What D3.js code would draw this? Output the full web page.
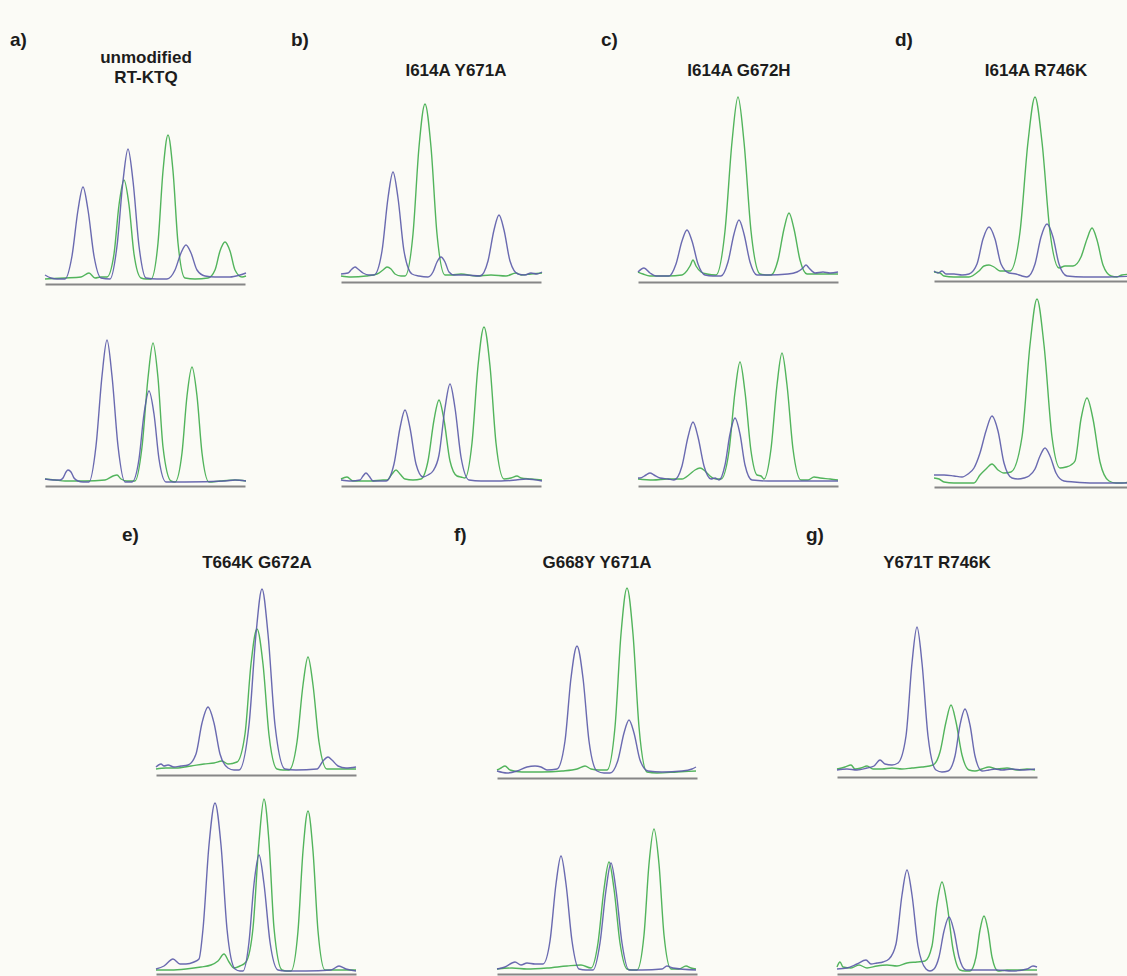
<!DOCTYPE html>
<html>
<head>
<meta charset="utf-8">
<script src="https://cdn.jsdelivr.net/npm/d3@7"></script>
<style>
  body { margin: 0; background: #fbfbf6; }
  svg { display: block; }
  .panel-label, .panel-title {
    font-family: "Liberation Sans", Arial, sans-serif;
    font-weight: bold;
    fill: #1c1c1c;
  }
</style>
</head>
<body>
<div id="chart"></div>
<script>
// Panel labels and titles
const panelLabels = ['a)', 'b)', 'c)', 'd)', 'e)', 'f)', 'g)']
const panelTitles = [
    ['unmodified', 'RT-KTQ'],
    ['I614A Y671A'],
    ['I614A G672H'],
    ['I614A R746K'],
    ['T664K G672A'],
    ['G668Y Y671A'],
    ['Y671T R746K']
]

// Trace key points: [scan position, signal]
const aTopBlue = [[0,4],[6,1],[12,0],[20,0],[27,23],[33,69],[38,92],[43,69],[49,23],[56,1],[65,0],[72,33],[78,98],[83,130],[88,98],[94,33],[101,1],[112,0],[122,0],[130,9],[136,26],[141,34],[146,26],[152,9],[160,3],[170,2],[185,2],[195,4],[201,6]]
const aTopGreen = [[0,0],[20,1],[36,2],[44,6],[50,1],[56,2],[62,2],[69,25],[74,74],[79,99],[84,74],[89,25],[96,1],[101,0],[106,0],[113,36],[118,108],[123,144],[128,108],[133,36],[140,1],[150,0],[163,1],[170,9],[175,28],[180,37],[185,28],[190,9],[197,2],[201,3]]
const aBottomBlue = [[0,3],[10,2],[15,2],[18,4],[21,10],[23,12],[26,10],[29,4],[33,1],[38,0],[44,0],[51,36],[57,106],[62,142],[67,106],[73,36],[80,0],[87,0],[94,23],[99,68],[104,91],[109,68],[114,23],[121,0],[140,0],[180,1],[190,2],[201,1]]
const aBottomGreen = [[0,3],[10,2],[20,1],[40,1],[60,2],[68,6],[72,7],[76,3],[82,1],[90,1],[97,35],[103,104],[108,139],[113,104],[118,35],[126,1],[130,0],[137,29],[142,86],[147,115],[152,86],[157,29],[164,0],[175,1],[190,2],[201,1]]

const bTopBlue = [[0,3],[7,4],[11,8],[14,10],[17,8],[22,4],[28,2],[33,2],[41,26],[47,79],[52,105],[57,79],[63,26],[71,3],[78,1],[87,0],[92,5],[96,15],[100,20],[104,15],[108,5],[113,2],[125,2],[139,1],[147,16],[153,47],[158,62],[163,47],[169,16],[177,3],[184,2],[190,4],[196,3],[201,5]]
const bTopGreen = [[0,1],[10,0],[25,1],[36,3],[42,7],[46,10],[50,8],[54,3],[60,1],[64,1],[72,43],[78,130],[84,173],[90,130],[96,43],[104,2],[110,2],[120,3],[135,1],[150,2],[165,1],[175,4],[180,2],[190,3],[201,4]]
const bBottomBlue = [[0,2],[10,1],[19,2],[22,6],[25,9],[28,6],[32,1],[40,1],[45,1],[53,18],[59,54],[64,72],[69,54],[75,18],[82,5],[87,7],[92,11],[98,27],[104,74],[109,98],[114,74],[120,25],[128,2],[140,1],[160,1],[175,2],[185,3],[201,1]]
const bBottomGreen = [[0,3],[6,5],[12,1],[30,1],[42,2],[46,2],[51,8],[55,12],[59,8],[64,3],[72,2],[80,3],[87,21],[93,62],[98,82],[103,62],[109,21],[116,6],[120,5],[124,4],[131,39],[137,116],[143,155],[149,116],[155,39],[163,3],[170,4],[176,6],[180,4],[190,3],[201,2]]

const cTopBlue = [[0,4],[6,8],[12,3],[18,0],[31,0],[38,12],[44,35],[49,46],[54,35],[60,12],[67,1],[75,0],[83,0],[90,14],[96,42],[101,56],[106,42],[112,14],[119,1],[130,1],[150,2],[159,4],[165,8],[168,11],[171,8],[177,3],[185,4],[192,3],[200,4]]
const cTopGreen = [[0,4],[5,2],[12,0],[30,0],[44,1],[47,3],[52,10],[55,16],[58,10],[63,4],[69,2],[78,1],[87,45],[94,134],[100,179],[106,134],[113,45],[122,2],[128,1],[133,1],[140,16],[146,47],[151,63],[156,47],[162,16],[169,2],[178,2],[188,2],[200,2]]
const cBottomBlue = [[0,3],[2,3],[8,6],[12,8],[16,6],[22,3],[30,2],[36,1],[44,15],[50,44],[55,59],[60,44],[66,15],[73,2],[77,3],[81,1],[87,16],[92,47],[97,63],[102,47],[107,16],[114,1],[130,0],[160,0],[200,0]]
const cBottomGreen = [[0,2],[15,1],[30,2],[44,2],[52,7],[57,11],[62,13],[67,10],[72,5],[78,2],[83,2],[91,30],[97,89],[102,119],[107,89],[113,30],[119,6],[123,5],[126,2],[133,32],[139,96],[144,128],[149,96],[155,32],[163,1],[170,1],[176,4],[182,3],[192,2],[200,1]]

const dTopBlue = [[0,6],[4,4],[8,6],[12,3],[20,3],[28,2],[35,3],[43,13],[49,38],[55,50],[61,38],[67,13],[75,4],[82,3],[88,1],[93,0],[101,13],[107,40],[113,53],[119,40],[125,13],[133,1],[150,0],[170,0],[200,1]]
const dTopGreen = [[0,5],[6,4],[10,1],[20,0],[35,0],[45,6],[50,11],[55,12],[60,10],[66,6],[72,6],[76,6],[86,45],[94,135],[101,180],[108,135],[116,45],[125,9],[131,11],[139,11],[147,20],[153,38],[158,49],[163,37],[169,12],[177,1],[183,0],[188,2],[200,3]]
const dBottomBlue = [[0,8],[10,8],[20,7],[28,6],[34,9],[40,15],[46,30],[52,52],[58,67],[64,52],[70,20],[78,5],[84,4],[90,5],[95,7],[101,14],[106,27],[111,35],[116,27],[122,10],[130,2],[140,1],[160,0],[200,0]]
const dBottomGreen = [[0,5],[5,4],[10,1],[20,0],[40,0],[46,8],[52,14],[58,19],[64,13],[70,10],[77,11],[88,46],[96,138],[103,184],[110,138],[118,46],[126,15],[132,16],[137,18],[141,22],[147,64],[153,85],[159,64],[166,21],[175,2],[182,0],[188,0],[200,2]]

const eTopBlue = [[0,3],[5,6],[8,4],[12,5],[18,3],[25,4],[32,5],[40,16],[46,47],[52,63],[58,47],[64,16],[72,2],[78,0],[83,0],[93,45],[100,136],[106,181],[112,136],[119,45],[129,1],[140,0],[161,1],[167,9],[172,13],[176,10],[182,4],[190,2],[200,3]]
const eTopGreen = [[0,1],[10,2],[20,2],[35,4],[48,6],[58,7],[66,9],[72,6],[81,8],[89,36],[95,106],[101,141],[107,106],[113,35],[121,1],[127,0],[133,0],[141,28],[147,85],[152,113],[157,85],[163,28],[171,1],[180,1],[200,1]]
const eBottomBlue = [[0,2],[8,5],[17,12],[24,7],[30,7],[38,9],[43,12],[47,42],[53,126],[59,168],[65,126],[71,42],[79,2],[84,0],[87,0],[93,29],[98,87],[103,116],[108,87],[114,29],[122,1],[130,0],[150,0],[175,1],[183,5],[190,2],[200,0]]
const eBottomGreen = [[0,1],[15,1],[30,2],[45,4],[55,6],[62,10],[68,17],[73,9],[78,3],[84,5],[90,9],[97,43],[103,129],[108,172],[113,129],[118,43],[126,1],[131,0],[135,0],[142,40],[147,120],[152,160],[157,120],[162,40],[169,1],[177,1],[187,1],[200,1]]

const fTopBlue = [[0,2],[10,0],[20,2],[30,6],[38,7],[44,6],[50,3],[60,4],[68,32],[74,95],[80,127],[86,95],[92,32],[100,2],[107,0],[113,0],[121,13],[127,40],[132,53],[137,40],[143,13],[151,2],[165,1],[185,2],[195,4],[199,6]]
const fTopGreen = [[0,3],[4,5],[8,7],[13,3],[25,1],[45,1],[65,2],[80,4],[88,7],[94,4],[102,3],[110,3],[118,46],[124,139],[130,185],[136,139],[142,46],[150,1],[160,0],[180,1],[199,2]]
const fBottomBlue = [[0,1],[8,3],[18,8],[24,5],[30,7],[38,6],[46,6],[53,29],[59,86],[64,114],[69,86],[75,29],[82,1],[89,0],[96,0],[103,27],[109,80],[114,107],[119,80],[125,27],[132,0],[145,0],[165,1],[170,4],[176,2],[199,0]]
const fBottomGreen = [[0,1],[15,2],[30,1],[50,2],[70,4],[84,5],[94,2],[101,27],[107,81],[112,108],[117,81],[123,27],[130,1],[135,0],[140,0],[147,35],[152,106],[157,141],[162,106],[167,35],[174,1],[182,1],[189,4],[194,2],[199,1]]

const gTopBlue = [[0,2],[10,3],[20,2],[30,4],[37,6],[43,12],[48,8],[55,7],[61,9],[69,36],[75,109],[80,145],[85,109],[91,36],[99,2],[105,0],[111,1],[118,16],[123,47],[128,63],[133,47],[138,16],[145,1],[152,2],[158,3],[165,2],[175,3],[185,2],[198,3]]
const gTopGreen = [[0,3],[8,5],[14,7],[18,3],[24,4],[30,6],[36,3],[45,3],[55,4],[65,3],[75,4],[85,5],[96,7],[103,20],[109,50],[114,67],[119,50],[125,17],[132,2],[138,1],[145,3],[152,5],[160,3],[170,4],[180,2],[190,3],[198,2]]
const gBottomBlue = [[0,2],[10,3],[20,7],[29,11],[34,7],[40,8],[46,9],[52,12],[59,27],[65,76],[70,101],[75,76],[81,25],[89,2],[93,0],[97,2],[102,14],[107,40],[112,54],[117,40],[122,14],[129,1],[140,1],[160,1],[175,0],[190,2],[196,5],[200,4]]
const gBottomGreen = [[0,4],[3,9],[6,4],[14,3],[22,6],[30,3],[40,5],[50,6],[60,5],[70,8],[80,9],[88,10],[95,25],[100,67],[105,89],[110,67],[116,22],[123,1],[128,0],[133,0],[139,14],[143,41],[147,55],[151,41],[155,14],[161,0],[170,1],[185,1],[200,1]]

const traceSets = [
    [[aTopBlue, aTopGreen], [aBottomBlue, aBottomGreen]],
    [[bTopBlue, bTopGreen], [bBottomBlue, bBottomGreen]],
    [[cTopBlue, cTopGreen], [cBottomBlue, cBottomGreen]],
    [[dTopBlue, dTopGreen], [dBottomBlue, dBottomGreen]],
    [[eTopBlue, eTopGreen], [eBottomBlue, eBottomGreen]],
    [[fTopBlue, fTopGreen], [fBottomBlue, fBottomGreen]],
    [[gTopBlue, gTopGreen], [gBottomBlue, gBottomGreen]]
]

const WIDTH = 1127
const HEIGHT = 976
const SCAN_SPAN = 200
const BLUE = '#5a5aa8'
const GREEN = '#52b45c'
const AXIS_GRAY = '#868686'
const LABEL_SIZE = 19
const TITLE_SIZE = 17

// Where each panel sits on the page
const layout = [
    { label: [10, 46], title: [146, 63], left: 45, rows: [{ axis: 284, zero: 279 }, { axis: 486, zero: 482 }] },
    { label: [291, 46], title: [456, 76], left: 341, rows: [{ axis: 282, zero: 277 }, { axis: 486, zero: 482 }] },
    { label: [601, 46], title: [739, 76], left: 638, rows: [{ axis: 282, zero: 276 }, { axis: 486, zero: 481 }] },
    { label: [895, 46], title: [1036, 76], left: 934, rows: [{ axis: 281, zero: 277 }, { axis: 487, zero: 483 }] },
    { label: [122, 541], title: [257, 568], left: 156, rows: [{ axis: 775, zero: 770 }, { axis: 974, zero: 971 }] },
    { label: [454, 541], title: [597, 568], left: 497, rows: [{ axis: 778, zero: 773 }, { axis: 974, zero: 970 }] },
    { label: [806, 541], title: [937, 568], left: 837, rows: [{ axis: 777, zero: 772 }, { axis: 974, zero: 971 }] }
]

const svg = d3.select('#chart')
    .append('svg')
    .attr('width', WIDTH)
    .attr('height', HEIGHT)

svg.append('rect')
    .attr('width', WIDTH)
    .attr('height', HEIGHT)
    .attr('fill', '#fbfbf6')

layout.forEach((panel, i) => {
    const g = svg.append('g').attr('class', 'panel')

    g.append('text')
        .attr('class', 'panel-label')
        .attr('x', panel.label[0])
        .attr('y', panel.label[1])
        .attr('font-size', LABEL_SIZE)
        .text(panelLabels[i])

    // Title, one or two lines
    g.selectAll('.panel-title')
        .data(panelTitles[i])
        .enter()
        .append('text')
        .attr('class', 'panel-title')
        .attr('x', panel.title[0])
        .attr('y', (d, k) => panel.title[1] + k * 20)
        .attr('text-anchor', 'middle')
        .attr('font-size', TITLE_SIZE)
        .text(d => d)

    const x = d3.scaleLinear()
        .domain([0, SCAN_SPAN])
        .range([panel.left, panel.left + SCAN_SPAN])

    panel.rows.forEach((row, r) => {
        const y = d3.scaleLinear()
            .domain([0, SCAN_SPAN])
            .range([row.zero, row.zero - SCAN_SPAN])

        // Baseline under each electropherogram
        const axis = g.append('g')
            .attr('transform', `translate(0,${row.axis})`)
            .call(d3.axisBottom(x).ticks(0).tickSizeOuter(0))
        axis.select('.domain')
            .attr('stroke', AXIS_GRAY)
            .attr('stroke-width', 2.2)

        const line = d3.line()
            .x(d => x(d[0]))
            .y(d => y(d[1]))
            .curve(d3.curveMonotoneX)

        const [blue, green] = traceSets[i][r]
        g.append('path')
            .attr('d', line(green))
            .attr('fill', 'none')
            .attr('stroke', GREEN)
            .attr('stroke-width', 1.4)
        g.append('path')
            .attr('d', line(blue))
            .attr('fill', 'none')
            .attr('stroke', BLUE)
            .attr('stroke-width', 1.4)
            .attr('stroke-opacity', 0.9)
    })
})
</script>
</body>
</html>
